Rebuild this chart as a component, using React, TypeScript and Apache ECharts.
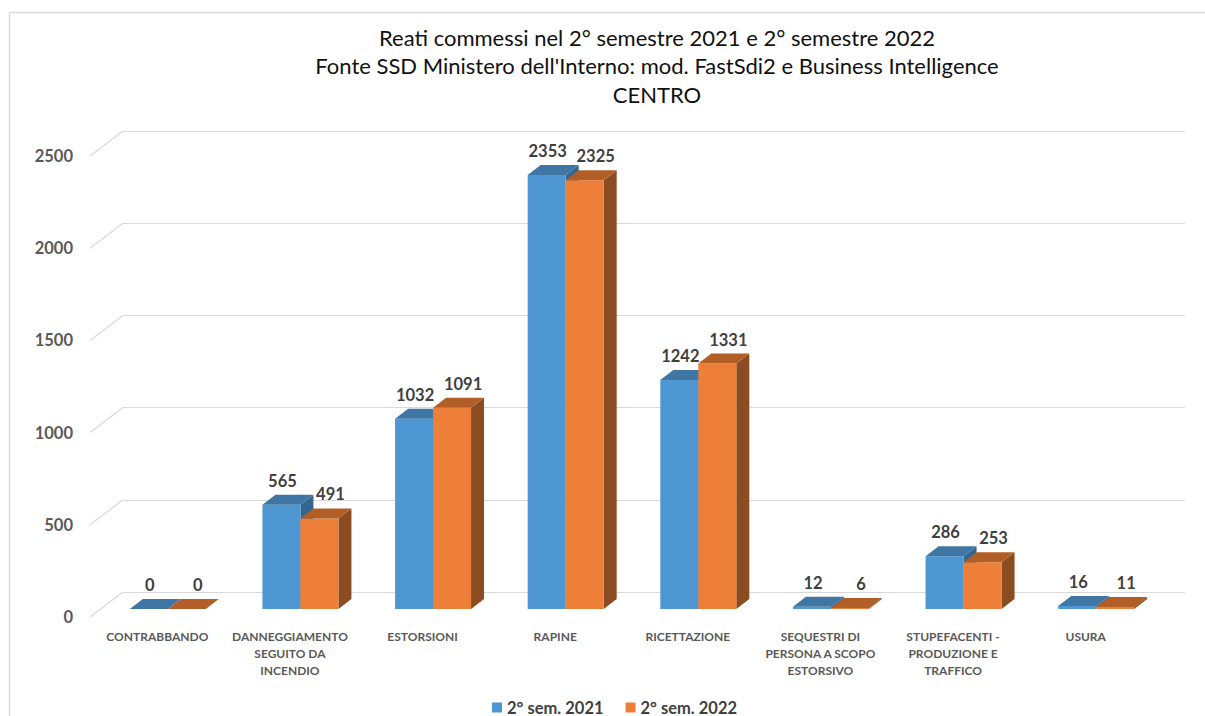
import React, { useEffect, useRef } from "react";
import * as echarts from "echarts";

const categories = [
  "CONTRABBANDO",
  "DANNEGGIAMENTO\nSEGUITO DA\nINCENDIO",
  "ESTORSIONI",
  "RAPINE",
  "RICETTAZIONE",
  "SEQUESTRI DI\nPERSONA A SCOPO\nESTORSIVO",
  "STUPEFACENTI -\nPRODUZIONE E\nTRAFFICO",
  "USURA",
];
const sem2021 = [0, 565, 1032, 2353, 1242, 12, 286, 16];
const sem2022 = [0, 491, 1091, 2325, 1331, 6, 253, 11];
const seriesNames = ["2° sem. 2021", "2° sem. 2022"];
const yTicks = [0, 500, 1000, 1500, 2000, 2500];
const titleLines = [
  "Reati commessi nel 2° semestre 2021 e 2° semestre 2022",
  "Fonte SSD Ministero dell'Interno: mod. FastSdi2 e Business Intelligence",
  "CENTRO",
];

const FONT = "Lato, 'Open Sans', sans-serif";
const COLORS = [
  { front: "#4F97D2", top: "#3F76A3", side: "#346790" },
  { front: "#EE7F38", top: "#B25E27", side: "#8C4C21" },
];
const DEPTH_X = 13;
const DEPTH_Y = -10;

function makeBarRender(idx: number) {
  const col = COLORS[idx];
  return (params: any, api: any) => {
    const ci = api.value(0);
    const v = api.value(1);
    const top = api.coord([ci, v]);
    const base = api.coord([ci, 0]);
    const band = api.size([1, 0])[0];
    const w = band * 0.2865;
    const x0 = idx === 0 ? top[0] - w : top[0];
    const x1 = x0 + w;
    const yt = top[1];
    const yb = base[1];
    const children: any[] = [];
    children.push({
      type: "polygon",
      shape: { points: [[x1, yt], [x1 + DEPTH_X, yt + DEPTH_Y], [x1 + DEPTH_X, yb + DEPTH_Y], [x1, yb]] },
      style: { fill: col.side },
    });
    children.push({
      type: "rect",
      shape: { x: x0, y: yt, width: w, height: Math.max(yb - yt, 0.01) },
      style: { fill: col.front },
    });
    children.push({
      type: "polygon",
      shape: { points: [[x0, yt], [x0 + DEPTH_X, yt + DEPTH_Y], [x1 + DEPTH_X, yt + DEPTH_Y], [x1, yt]] },
      style: { fill: col.top },
    });
    const lx = (x0 + x1) / 2 + (idx === 0 ? 1 : 11);
    children.push({
      type: "text",
      x: lx,
      y: yt - 24,
      style: {
        text: String(v),
        fontFamily: FONT,
        fontWeight: "bold",
        fontSize: 16.5,
        fill: "#404040",
        align: "center",
        verticalAlign: "middle",
      },
    });
    return { type: "group", children };
  };
}

export default function App() {
  const ref = useRef<HTMLDivElement>(null);
  useEffect(() => {
    document.body.style.margin = "0";
    document.body.style.overflow = "hidden";
    document.documentElement.style.overflow = "hidden";
    if (!ref.current) return;
    const chart = echarts.init(ref.current, null, { renderer: "svg" });
    const gridW = 1061;
    const gridH = 461;
    const option: any = {
      animation: false,
      backgroundColor: "#ffffff",
      graphic: [
        {
          type: "line",
          shape: { x1: 9.5, y1: 12.5, x2: 1205, y2: 12.5 },
          style: { stroke: "#d9d9d9", lineWidth: 1.5 },
          silent: true,
        },
        {
          type: "line",
          shape: { x1: 9.5, y1: 12.5, x2: 9.5, y2: 716 },
          style: { stroke: "#d9d9d9", lineWidth: 1.5 },
          silent: true,
        },
        {
          type: "text",
          x: 657,
          y: 23,
          style: {
            text: titleLines.join("\n"),
            fontFamily: FONT,
            fontSize: 22,
            lineHeight: 28.5,
            fill: "#111111",
            align: "center",
            verticalAlign: "top",
          },
        },
      ],
      legend: {
        data: seriesNames,
        left: 487,
        top: 694,
        icon: "rect",
        itemWidth: 10,
        itemHeight: 10,
        itemGap: 22,
        textStyle: { fontFamily: FONT, fontSize: 16.5, fontWeight: "bold", color: "#404040" },
      },
      grid: [
        { left: 91, top: 156, width: gridW, height: gridH },
        { left: 123, top: 131, width: 1062, height: gridH },
        { left: 101.5, top: 148, width: gridW, height: gridH },
      ],
      xAxis: [
        {
          type: "category",
          gridIndex: 0,
          data: categories,
          axisLine: { show: false },
          axisTick: { show: false },
          axisLabel: {
            interval: 0,
            margin: 11,
            fontFamily: FONT,
            fontSize: 12,
            fontWeight: "bold",
            color: "#595959",
            lineHeight: 17,
            align: "center",
          },
        },
        { type: "value", gridIndex: 1, min: 0, max: 1, show: false },
        { type: "category", gridIndex: 2, data: categories, show: false },
      ],
      yAxis: [
        {
          type: "value",
          gridIndex: 0,
          min: 0,
          max: 2500,
          interval: 500,
          axisLine: { show: false },
          axisTick: { show: false },
          splitLine: { show: false },
          axisLabel: {
            margin: 18,
            formatter: (v: number) => String(v),
            fontFamily: FONT,
            fontSize: 16.5,
            fontWeight: "bold",
            color: "#595959",
          },
        },
        {
          type: "value",
          gridIndex: 1,
          min: 0,
          max: 2500,
          interval: 500,
          axisLine: { show: false },
          axisTick: { show: false },
          axisLabel: { show: false },
          splitLine: { show: true, lineStyle: { color: "#d9d9d9", width: 1.2 } },
        },
        { type: "value", gridIndex: 2, min: 0, max: 2500, interval: 500, show: false },
      ],
      series: [
        {
          type: "custom",
          name: "walls",
          xAxisIndex: 1,
          yAxisIndex: 1,
          silent: true,
          data: yTicks.map((t) => [0, t]),
          renderItem: (params: any, api: any) => {
            const p = api.coord([0, api.value(1)]);
            return {
              type: "line",
              shape: { x1: p[0], y1: p[1], x2: p[0] - 33, y2: p[1] + 25 },
              style: { stroke: "#d9d9d9", lineWidth: 1.2 },
            };
          },
        },
        {
          type: "custom",
          name: seriesNames[0],
          xAxisIndex: 2,
          yAxisIndex: 2,
          itemStyle: { color: COLORS[0].front },
          data: sem2021.map((v, i) => [i, v]),
          renderItem: makeBarRender(0),
        },
        {
          type: "custom",
          name: seriesNames[1],
          xAxisIndex: 2,
          yAxisIndex: 2,
          itemStyle: { color: COLORS[1].front },
          data: sem2022.map((v, i) => [i, v]),
          renderItem: makeBarRender(1),
        },
      ],
    };
    chart.setOption(option);
    return () => chart.dispose();
  }, []);
  return <div ref={ref} style={{ width: 1205, height: 716 }} />;
}
